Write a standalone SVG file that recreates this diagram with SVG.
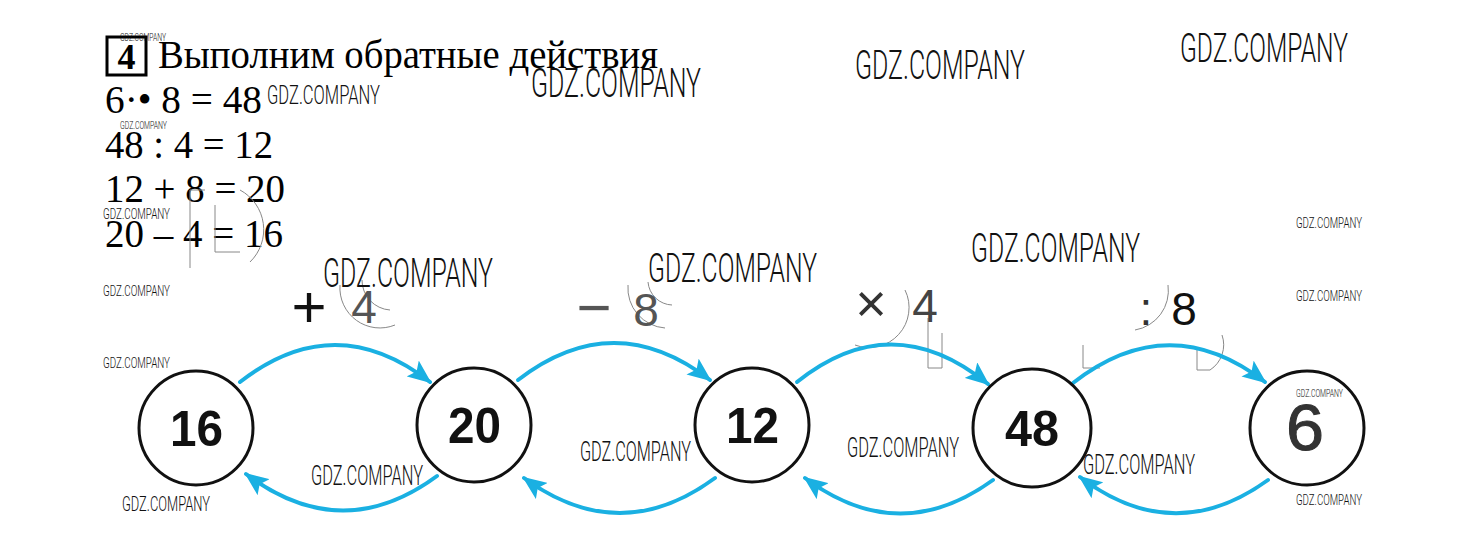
<svg xmlns="http://www.w3.org/2000/svg" width="1460" height="552" viewBox="0 0 1460 552">
<style>
.serif{font-family:"Liberation Serif","Times New Roman",serif;fill:#000}
.num{font-family:"Liberation Sans",Arial,sans-serif;font-weight:bold;font-size:50px;fill:#111}
.op{font-family:"Liberation Sans",Arial,sans-serif;font-size:46px;text-anchor:middle}
.sign{font-family:"Liberation Sans",Arial,sans-serif;font-size:60px;text-anchor:middle}
.wm{font-family:"Roboto","Liberation Sans",sans-serif;font-weight:300;fill:#111}
.node{fill:#fff;stroke:#111;stroke-width:3}
.arr{fill:none;stroke:#1ab0e2;stroke-width:4;stroke-linecap:round}
.ghost{fill:none;stroke:#888;stroke-width:1}
</style>
<defs>
<marker id="ah" markerUnits="userSpaceOnUse" markerWidth="24" markerHeight="20" refX="22" refY="10" orient="auto" viewBox="0 0 24 20">
<path d="M0,0 L24,10 L0,20 L5,10 z" fill="#1ab0e2"/>
</marker>
</defs>
<rect width="1460" height="552" fill="#fff"/>

<g id="title">
<rect x="107" y="37" width="39" height="38" fill="none" stroke="#000" stroke-width="3"/>
<text class="serif" x="126.5" y="69" font-size="36" font-weight="bold" text-anchor="middle">4</text>
<text class="serif" x="158" y="68" font-size="40" textLength="500" lengthAdjust="spacingAndGlyphs">Выполним обратные действия</text>
</g>

<g id="equations">
<text class="serif" x="105" y="113" font-size="39" textLength="157" lengthAdjust="spacingAndGlyphs">6·• 8 = 48</text>
<text class="serif" x="105" y="158" font-size="39" textLength="168" lengthAdjust="spacingAndGlyphs">48 : 4 = 12</text>
<text class="serif" x="105" y="202" font-size="39" textLength="180" lengthAdjust="spacingAndGlyphs">12 + 8 = 20</text>
<text class="serif" x="105" y="247" font-size="39" textLength="178" lengthAdjust="spacingAndGlyphs">20 – 4 = 16</text>
</g>

<g id="ghosts">
<path class="ghost" d="M190,190 V268 M190,190 H205 M215,205 V252 H240 M240,190 A45,45 0 0 1 250,262"/>
<path class="ghost" d="M340,285 A40,40 0 0 0 395,325 M362,280 A30,30 0 0 0 390,310"/>
<path class="ghost" d="M628,285 A40,40 0 0 0 665,328 M648,282 A25,25 0 0 0 672,305"/>
<path class="ghost" d="M905,290 A40,40 0 0 1 855,345 M928,318 V368 H942 V333"/>
<path class="ghost" d="M1168,285 A40,40 0 0 1 1135,330 M1083,345 V368 H1100 M1197,348 V370 H1210 A30,30 0 0 0 1222,335"/>
</g>

<g id="connectors">
<path class="arr" marker-end="url(#ah)" d="M240,382 Q335,308 430,382"/>
<path class="arr" marker-end="url(#ah)" d="M518,380 Q614,306 710,380"/>
<path class="arr" marker-end="url(#ah)" d="M797,382 Q892,306 988,384"/>
<path class="arr" marker-end="url(#ah)" d="M1073,383 Q1169,308 1265,382"/>
<path class="arr" marker-end="url(#ah)" d="M437,476 Q342,546 246,474"/>
<path class="arr" marker-end="url(#ah)" d="M715,478 Q620,548 524,478"/>
<path class="arr" marker-end="url(#ah)" d="M993,480 Q899,548 805,478"/>
<path class="arr" marker-end="url(#ah)" d="M1268,480 Q1174,548 1080,477"/>
</g>

<g id="op1"><text class="sign" x="309" y="327" fill="#111">+</text><text class="op" x="364" y="323" fill="#555">4</text></g>
<g id="op2"><text class="sign" x="594" y="328" fill="#555">−</text><text class="op" x="646" y="326" fill="#555">8</text></g>
<g id="op3"><text class="sign" x="871" y="322" fill="#333" style="font-size:54px">×</text><text class="op" x="925" y="322" fill="#444">4</text></g>
<g id="op4"><text class="op" x="1146" y="325" fill="#333">:</text><text class="op" x="1184" y="325" fill="#111">8</text></g>

<g id="node-16"><circle class="node" cx="196" cy="428" r="57"/><text class="num" x="170" y="446" textLength="53" lengthAdjust="spacingAndGlyphs">16</text></g>
<g id="node-20"><circle class="node" cx="474" cy="425" r="57"/><text class="num" x="448" y="443" textLength="53" lengthAdjust="spacingAndGlyphs">20</text></g>
<g id="node-12"><circle class="node" cx="752" cy="425" r="57"/><text class="num" x="726" y="443" textLength="53" lengthAdjust="spacingAndGlyphs">12</text></g>
<g id="node-48"><circle class="node" cx="1032" cy="428" r="59"/><text class="num" x="1005" y="446" textLength="54" lengthAdjust="spacingAndGlyphs">48</text></g>
<g id="node-6"><circle class="node" cx="1307" cy="428" r="57"/><text x="1286" y="450" font-family="Liberation Sans, Arial, sans-serif" font-size="64" fill="#333" stroke="#333" stroke-width="1" textLength="38" lengthAdjust="spacingAndGlyphs">6</text></g>

<g id="watermarks">
<text class="wm" x="120" y="41" font-size="10" textLength="46" lengthAdjust="spacingAndGlyphs">GDZ.COMPANY</text>
<text class="wm" x="531" y="97" font-size="41" textLength="170" lengthAdjust="spacingAndGlyphs">GDZ.COMPANY</text>
<text class="wm" x="267" y="104" font-size="25" textLength="113" lengthAdjust="spacingAndGlyphs">GDZ.COMPANY</text>
<text class="wm" x="855" y="79" font-size="41" textLength="170" lengthAdjust="spacingAndGlyphs">GDZ.COMPANY</text>
<text class="wm" x="1180" y="62" font-size="41" textLength="168" lengthAdjust="spacingAndGlyphs">GDZ.COMPANY</text>
<text class="wm" x="120" y="129" font-size="10" textLength="47" lengthAdjust="spacingAndGlyphs">GDZ.COMPANY</text>
<text class="wm" x="103" y="219" font-size="15" textLength="67" lengthAdjust="spacingAndGlyphs">GDZ.COMPANY</text>
<text class="wm" x="323" y="287" font-size="41" textLength="170" lengthAdjust="spacingAndGlyphs">GDZ.COMPANY</text>
<text class="wm" x="648" y="282" font-size="41" textLength="169" lengthAdjust="spacingAndGlyphs">GDZ.COMPANY</text>
<text class="wm" x="971" y="262" font-size="41" textLength="169" lengthAdjust="spacingAndGlyphs">GDZ.COMPANY</text>
<text class="wm" x="1296" y="228" font-size="15" textLength="66" lengthAdjust="spacingAndGlyphs">GDZ.COMPANY</text>
<text class="wm" x="103" y="296" font-size="15" textLength="67" lengthAdjust="spacingAndGlyphs">GDZ.COMPANY</text>
<text class="wm" x="1296" y="301" font-size="15" textLength="66" lengthAdjust="spacingAndGlyphs">GDZ.COMPANY</text>
<text class="wm" x="103" y="368" font-size="15" textLength="67" lengthAdjust="spacingAndGlyphs">GDZ.COMPANY</text>
<text class="wm" x="1296" y="397" font-size="11" textLength="47" lengthAdjust="spacingAndGlyphs">GDZ.COMPANY</text>
<text class="wm" x="580" y="461" font-size="28" textLength="111" lengthAdjust="spacingAndGlyphs">GDZ.COMPANY</text>
<text class="wm" x="847" y="457" font-size="28" textLength="112" lengthAdjust="spacingAndGlyphs">GDZ.COMPANY</text>
<text class="wm" x="311" y="485" font-size="28" textLength="112" lengthAdjust="spacingAndGlyphs">GDZ.COMPANY</text>
<text class="wm" x="1083" y="474" font-size="28" textLength="112" lengthAdjust="spacingAndGlyphs">GDZ.COMPANY</text>
<text class="wm" x="122" y="511" font-size="21" textLength="88" lengthAdjust="spacingAndGlyphs">GDZ.COMPANY</text>
<text class="wm" x="1296" y="505" font-size="15" textLength="66" lengthAdjust="spacingAndGlyphs">GDZ.COMPANY</text>
</g>
</svg>
